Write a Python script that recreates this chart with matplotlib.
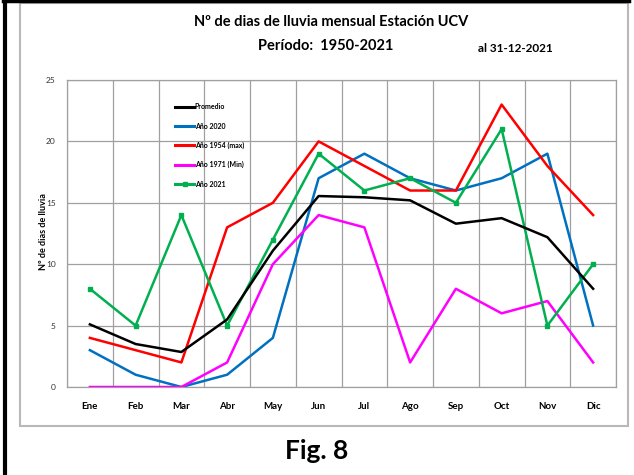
import numpy as np
import matplotlib
matplotlib.use('Agg')
import matplotlib.pyplot as plt
from matplotlib.lines import Line2D
from matplotlib.patches import Rectangle

plt.rcParams['font.family'] = ['Lato', 'DejaVu Sans']

# monthly data
meses = ['Ene', 'Feb', 'Mar', 'Abr', 'May', 'Jun', 'Jul', 'Ago', 'Sep', 'Oct', 'Nov', 'Dic']
promedio = [5.1, 3.5, 2.85, 5.5, 11.1, 15.55, 15.45, 15.2, 13.3, 13.75, 12.2, 8.0]
anio_2020 = [3, 1, 0, 1, 4, 17, 19, 17, 16, 17, 19, 5]
anio_1954 = [4, 3, 2, 13, 15, 20, 18, 16, 16, 23, 18, 14]
anio_1971 = [0, 0, 0, 2, 10, 14, 13, 2, 8, 6, 7, 2]
anio_2021 = [8, 5, 14, 5, 12, 19, 16, 17, 15, 21, 5, 10]
y_ticks = [0, 5, 10, 15, 20, 25]

fig = plt.figure(figsize=(6.34, 4.75), dpi=100)

# outer frames
fig.add_artist(Rectangle((20/634, 1 - 426/475), 608/634, 423/475, transform=fig.transFigure,
                         fill=False, edgecolor='#b8b8b8', linewidth=1.5))
fig.add_artist(Line2D([5/634, 5/634], [0, 1], transform=fig.transFigure, color='black', linewidth=3))
fig.add_artist(Line2D([3/634, 629/634], [1 - 1.2/475, 1 - 1.2/475], transform=fig.transFigure, color='black', linewidth=2.5))

ax = fig.add_axes([67/634, 1 - 387/475, 549/634, 307/475])
x = np.arange(len(meses))

ax.plot(x, promedio, color='black', lw=1.8, label='Promedio', zorder=5)
ax.plot(x, anio_2020, color='#0070C0', lw=1.8, label='Año 2020', zorder=4)
ax.plot(x, anio_1954, color='#FF0000', lw=1.8, label='Año 1954 (max)', zorder=4)
ax.plot(x, anio_1971, color='#FF00FF', lw=1.8, label='Año 1971 (Min)', zorder=4)
ax.plot(x, anio_2021, color='#00B050', lw=1.8, marker='s', markersize=3.5, label='Año 2021', zorder=4)

ax.set_xlim(-0.5, len(meses) - 0.5)
ax.set_ylim(0, 25)
ax.set_yticks(y_ticks)
ax.set_xticks(x)
ax.set_xticklabels(meses, fontsize=7, fontweight='bold')
ax.tick_params(axis='x', length=0, pad=11)
ax.tick_params(axis='y', length=0, pad=8, labelsize=6, labelcolor='#333333')
ax.grid(False)
for v in y_ticks:
    ax.axhline(v, color='#a0a0a0', lw=0.9, zorder=1)
for v in np.arange(-0.5, len(meses)):
    ax.axvline(v, color='#a0a0a0', lw=0.9, zorder=1)
for s in ax.spines.values():
    s.set_color('#a0a0a0')
    s.set_linewidth(0.9)

fig.text(43/634, 1 - 232/475, 'Nº de dias de lluvia', rotation=90, fontsize=6.5,
         fontweight='bold', ha='center', va='center')

leg = ax.legend(loc='upper left', bbox_to_anchor=(172/634, 1 - 100/475), bbox_transform=fig.transFigure,
                frameon=False, borderpad=0, labelspacing=1.75, handlelength=2.6,
                handletextpad=0.15, prop={'size': 5, 'weight': 'bold'})
for h in leg.get_lines():
    h.set_linewidth(2.2)

fig.text(331/634, 1 - 22/475, 'Nº de dias de lluvia mensual Estación UCV', fontsize=10.5,
         fontweight='bold', ha='center', va='center')
fig.text(326/634, 1 - 46/475, 'Período:  1950-2021', fontsize=10.5,
         fontweight='bold', ha='center', va='center')
fig.text(515/634, 1 - 48/475, 'al 31-12-2021', fontsize=8.5,
         fontweight='bold', ha='center', va='center')
fig.text(317/634, 1 - 459/475, 'Fig. 8', fontsize=19, fontweight='bold', ha='center', va='baseline')

fig.savefig('out.png', dpi=100)
